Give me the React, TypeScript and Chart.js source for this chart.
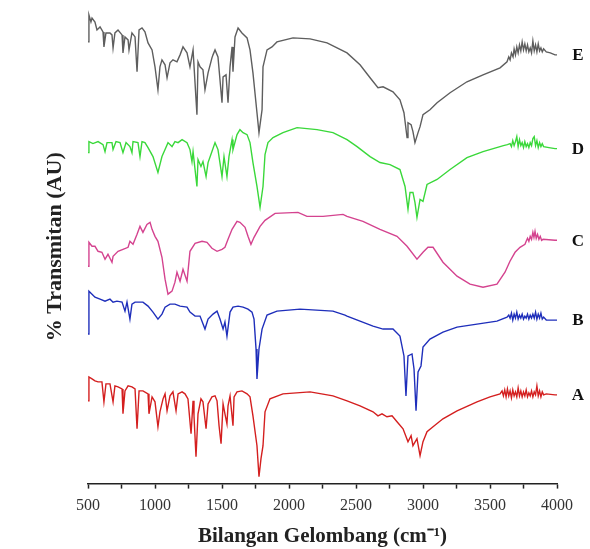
import React, { useEffect, useRef } from "react";
import { Chart, registerables } from "chart.js";

Chart.register(...registerables);

// [wavenumber (cm-1), stacked transmittance (AU)]
const seriesE: [number, number][] = [
  [500,443],[507,470],[522,463],[530,467],[552,463],[567,455],[590,458],[612,453],[619,438],[634,452],
  [664,452],[679,450],[687,437],[701,452],[724,455],[754,450],[761,432],[776,448],[799,445],[806,435],
  [828,452],[851,448],[866,413],[881,455],[903,457],[925,453],[948,442],[978,435],[1000,418],[1022,395],
  [1037,418],[1052,425],[1075,420],[1090,407],[1112,422],[1134,425],[1164,423],[1187,430],[1209,438],[1239,432],
  [1261,418],[1284,435],[1313,370],[1321,423],[1336,418],[1358,415],[1373,395],[1396,412],[1425,427],[1433,430],
  [1448,435],[1470,428],[1500,382],[1508,408],[1530,410],[1545,382],[1560,418],[1575,438],[1582,413],[1597,448],
  [1620,457],[1649,452],[1687,447],[1709,435],[1731,412],[1761,372],[1776,352],[1799,375],[1806,418],[1836,435],
  [1873,438],[1910,443],[2030,447],[2157,446],[2284,442],[2433,432],[2530,420],[2605,407],[2664,397],[2702,398],
  [2776,393],[2828,385],[2858,372],[2881,347],[2888,362],[2911,360],[2925,353],[2940,342],[2963,352],[2978,358],
  [3000,370],[3052,375],[3105,382],[3202,392],[3328,403],[3448,410],[3575,417],[3627,423],[3640,428],[3650,425],
  [3660,432],[3672,428],[3680,436],[3690,430],[3700,438],[3710,432],[3720,440],[3730,434],[3740,443],[3750,435],
  [3760,441],[3770,434],[3780,440],[3790,433],[3800,437],[3810,432],[3820,444],[3830,434],[3840,440],[3850,433],
  [3860,441],[3870,434],[3880,437],[3890,433],[3900,436],[3920,433],[3950,432],[3985,430],[4000,430]
];

const seriesD: [number, number][] = [
  [500,332],[507,343],[537,341],[575,343],[612,340],[627,333],[642,342],[679,342],[687,335],[709,343],
  [739,342],[761,332],[784,342],[813,338],[828,332],[836,343],[873,342],[888,328],[903,343],[925,342],
  [948,337],[985,328],[1022,312],[1052,328],[1075,335],[1097,342],[1127,338],[1149,343],[1172,342],[1202,345],
  [1239,342],[1261,335],[1276,323],[1284,333],[1313,298],[1321,325],[1343,318],[1358,323],[1381,308],[1396,322],
  [1425,333],[1448,342],[1470,335],[1500,308],[1515,328],[1537,308],[1552,328],[1575,345],[1582,335],[1612,350],
  [1634,355],[1657,352],[1687,350],[1709,342],[1731,322],[1761,298],[1784,277],[1806,298],[1821,330],[1843,342],
  [1881,347],[1955,352],[2060,357],[2209,355],[2328,352],[2433,345],[2508,338],[2605,328],[2679,322],[2754,320],
  [2828,315],[2866,298],[2888,275],[2903,292],[2925,292],[2940,282],[2955,267],[2978,285],[3000,283],[3030,300],
  [3105,305],[3202,315],[3328,327],[3448,333],[3575,338],[3600,339],[3630,340],[3650,341],[3660,338],[3670,344],
  [3680,339],[3690,343],[3700,348],[3710,338],[3720,345],[3730,339],[3740,342],[3750,337],[3760,343],[3770,338],
  [3780,341],[3790,337],[3800,342],[3810,339],[3820,346],[3830,348],[3840,339],[3850,344],[3860,337],[3870,342],
  [3880,338],[3890,341],[3900,338],[3940,337],[3985,336],[4000,336]
];

const seriesC: [number, number][] = [
  [500,218],[507,242],[530,238],[552,238],[575,233],[604,232],[627,225],[649,230],[679,222],[687,228],
  [724,233],[761,235],[799,237],[813,243],[836,240],[866,250],[888,258],[910,252],[940,260],[963,262],
  [978,255],[1000,248],[1022,243],[1052,227],[1075,205],[1097,190],[1127,193],[1149,202],[1164,212],[1187,203],
  [1209,215],[1239,203],[1261,233],[1299,241],[1351,243],[1388,242],[1425,236],[1463,233],[1500,235],[1522,237],
  [1545,245],[1575,255],[1612,263],[1634,262],[1672,257],[1694,248],[1716,240],[1739,247],[1784,258],[1821,264],
  [1896,271],[2067,272],[2134,268],[2254,268],[2403,270],[2433,268],[2552,263],[2679,255],[2806,248],[2881,238],
  [2955,225],[3000,232],[3037,237],[3075,237],[3149,222],[3254,208],[3351,200],[3448,197],[3552,200],[3612,212],
  [3649,223],[3687,232],[3724,237],[3761,240],[3770,243],[3780,246],[3790,243],[3800,248],[3810,245],[3820,252],
  [3828,247],[3836,253],[3845,246],[3855,250],[3865,245],[3875,248],[3885,244],[3896,245],[3985,244],[4000,244]
];

const seriesB: [number, number][] = [
  [500,150],[507,193],[530,190],[552,187],[590,185],[627,183],[664,185],[687,182],[716,183],[754,182],
  [776,173],[791,182],[813,165],[828,180],[851,182],[910,182],[948,178],[985,172],[1022,165],[1052,170],
  [1075,177],[1112,180],[1149,180],[1187,178],[1239,177],[1261,172],[1299,168],[1336,168],[1373,155],[1396,165],
  [1433,170],[1463,173],[1485,165],[1508,155],[1522,162],[1537,148],[1560,172],[1582,177],[1620,178],[1657,177],
  [1694,175],[1724,172],[1739,165],[1754,135],[1761,105],[1776,135],[1799,155],[1836,169],[1910,173],[2082,175],
  [2328,173],[2418,169],[2433,168],[2530,163],[2627,158],[2702,155],[2776,155],[2828,148],[2858,128],[2873,88],
  [2888,128],[2918,130],[2933,115],[2948,73],[2963,112],[2985,118],[3000,137],[3052,145],[3149,152],[3254,157],
  [3403,160],[3552,163],[3627,167],[3640,169],[3650,166],[3660,171],[3670,164],[3680,170],[3690,166],[3700,172],
  [3710,165],[3720,169],[3730,166],[3740,170],[3750,165],[3760,168],[3770,166],[3780,170],[3790,165],[3800,169],
  [3810,166],[3820,170],[3830,166],[3840,172],[3850,165],[3860,170],[3870,166],[3880,171],[3890,165],[3900,167],
  [3920,164],[3985,164],[4000,164]
];

const seriesA: [number, number][] = [
  [500,83],[507,107],[530,105],[552,103],[575,102],[604,102],[619,82],[634,100],[664,100],[687,82],
  [701,98],[724,97],[754,95],[761,70],[776,93],[799,98],[828,97],[851,95],[866,55],[881,93],
  [910,93],[948,90],[955,70],[978,87],[1000,82],[1022,57],[1037,72],[1060,85],[1075,90],[1090,73],
  [1112,88],[1134,92],[1157,73],[1172,90],[1202,92],[1224,90],[1246,85],[1269,50],[1284,83],[1291,68],
  [1306,27],[1321,70],[1343,85],[1358,82],[1381,55],[1396,80],[1425,87],[1448,88],[1463,83],[1478,58],
  [1493,40],[1508,80],[1522,70],[1537,60],[1545,78],[1560,88],[1582,58],[1590,87],[1612,92],[1649,93],
  [1687,90],[1709,87],[1731,68],[1761,38],[1776,7],[1791,25],[1806,38],[1821,72],[1858,85],[1955,90],
  [2157,92],[2328,88],[2433,83],[2530,78],[2627,72],[2664,68],[2694,70],[2731,67],[2769,68],[2806,62],
  [2851,55],[2888,42],[2911,48],[2925,38],[2955,45],[2978,28],[3000,42],[3030,52],[3075,57],[3149,65],
  [3254,73],[3403,82],[3500,87],[3575,90],[3590,93],[3600,88],[3610,94],[3620,87],[3630,95],[3640,88],
  [3650,93],[3660,86],[3670,94],[3680,88],[3690,92],[3700,87],[3710,96],[3720,88],[3730,93],[3740,87],
  [3750,92],[3760,88],[3770,94],[3780,87],[3790,91],[3800,88],[3810,93],[3820,87],[3830,92],[3840,89],
  [3850,98],[3860,88],[3870,93],[3880,87],[3890,92],[3900,89],[3920,90],[3985,89],[4000,89]
];

const seriesLabels = ["E", "D", "C", "B", "A"];
const seriesColors = ["#5e5e5e", "#3ad83a", "#d4438f", "#1f2fbb", "#d41f1f"];
const allSeries = [seriesE, seriesD, seriesC, seriesB, seriesA];

const xTickStep = 250;
const xMin = 500;
const xMax = 4000;

const serif = '"Liberation Serif", "Times New Roman", serif';

const endLabelPlugin = {
  id: "endLabels",
  afterDatasetsDraw(chart: any) {
    const { ctx, chartArea, scales } = chart;
    ctx.save();
    ctx.font = `bold 17px ${serif}`;
    ctx.fillStyle = "#111";
    ctx.textAlign = "center";
    ctx.textBaseline = "middle";
    chart.data.datasets.forEach((ds: any) => {
      const last = ds.data[ds.data.length - 1];
      ctx.fillText(ds.label, chartArea.right + 21, scales.y.getPixelForValue(last.y) + 1);
    });
    ctx.restore();
  },
};

export default function App() {
  const ref = useRef<HTMLCanvasElement | null>(null);
  useEffect(() => {
    document.body.style.margin = "0";
    const canvas = ref.current!;
    const chart = new Chart(canvas, {
      type: "line",
      data: {
        datasets: allSeries.map((s, i) => ({
          label: seriesLabels[i],
          data: s.map(([x, y]) => ({ x, y })),
          borderColor: seriesColors[i],
          borderWidth: 1.4,
          pointRadius: 0,
          tension: 0,
          fill: false,
        })),
      },
      options: {
        animation: false,
        responsive: false,
        devicePixelRatio: 1,
        layout: { padding: { left: 40, right: 33, top: 10, bottom: 0 } },
        plugins: { legend: { display: false }, tooltip: { enabled: false } },
        scales: {
          x: {
            type: "linear",
            min: xMin,
            max: xMax,
            border: { display: true, color: "#222", width: 1.5 },
            grid: { display: true, drawOnChartArea: false, drawTicks: true, tickLength: 5, color: "#222", tickWidth: 1.5 },
            ticks: {
              stepSize: xTickStep,
              autoSkip: false,
              maxRotation: 0,
              padding: 8,
              color: "#333",
              font: { family: serif, size: 16 },
              callback: (v: any) => (Number(v) % 500 === 0 ? String(v) : ""),
            },
            title: {
              display: true,
              text: "Bilangan Gelombang (cm⁻¹)",
              color: "#222",
              font: { family: serif, size: 21, weight: "bold" },
              padding: { top: 0, bottom: 0 },
            },
          },
          y: {
            type: "linear",
            min: 0,
            max: 475,
            border: { display: false },
            grid: { display: false, drawTicks: false },
            ticks: { display: false },
            title: {
              display: true,
              text: "% Transmitan (AU)",
              color: "#222",
              font: { family: serif, size: 22, weight: "bold" },
              padding: { top: 1.8, bottom: 19.8 },
            },
          },
        },
      },
      plugins: [endLabelPlugin],
    });
    return () => chart.destroy();
  }, []);
  return <canvas ref={ref} width={590} height={549} style={{ display: "block" }} />;
}
